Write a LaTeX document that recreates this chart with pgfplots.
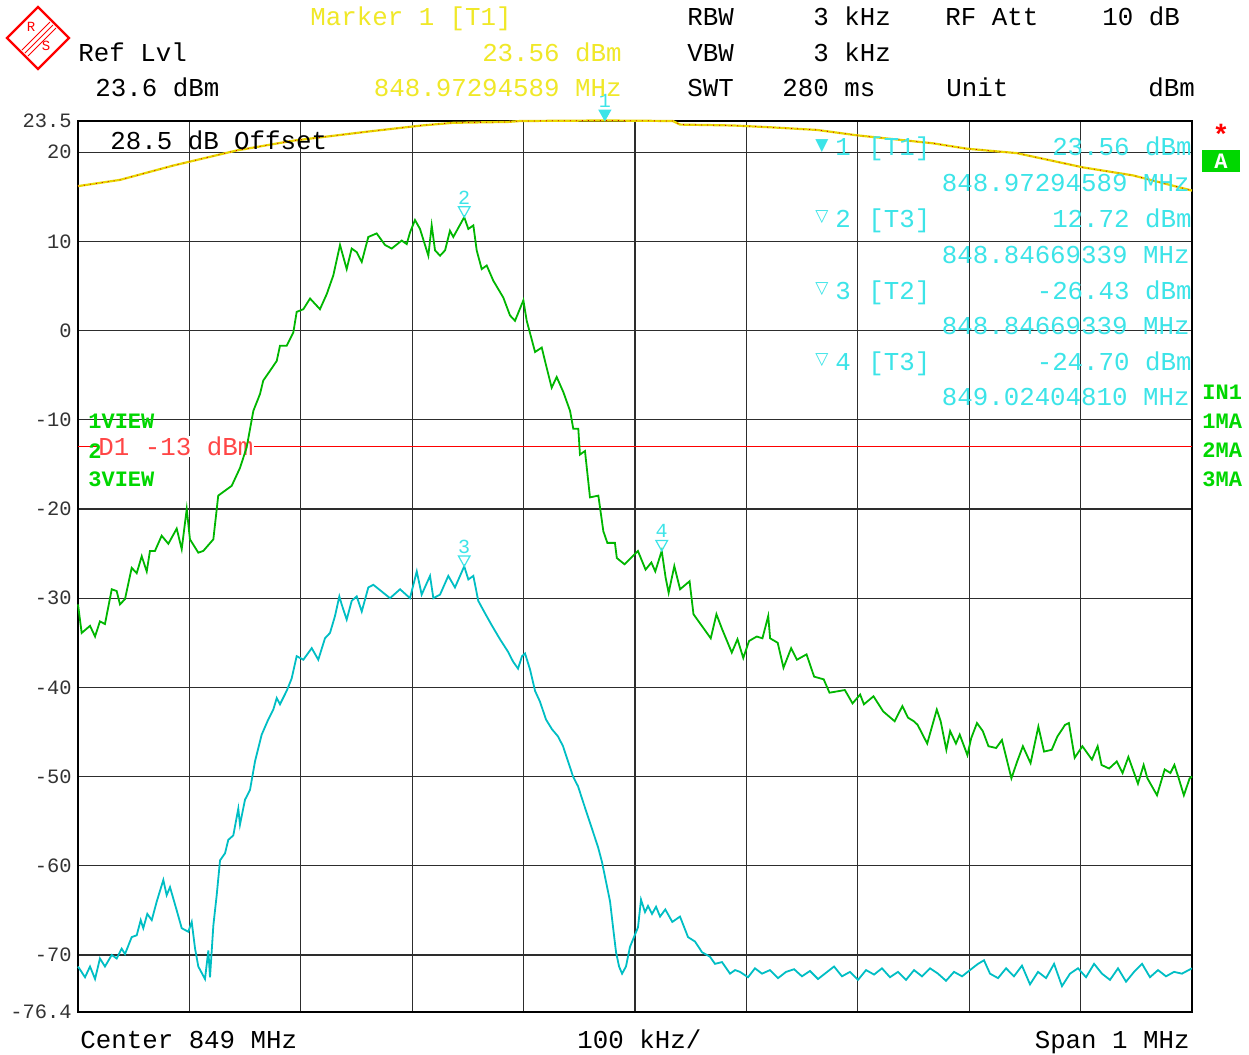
\documentclass[border=0pt]{standalone}
\usepackage{pgfplots}
\pgfplotsset{compat=1.18}
\usepackage{fontspec}
\setmainfont{Liberation Mono}
\newfontfamily\symfont{DejaVu Sans}

\definecolor{trgreen}{RGB}{0,182,0}
\definecolor{trcyan}{RGB}{0,190,196}
\definecolor{mcyan}{RGB}{60,228,232}
\definecolor{hyellow}{RGB}{240,232,40}
\definecolor{tryellow}{RGB}{232,214,0}
\definecolor{lgreen}{RGB}{0,215,0}
\definecolor{dred}{RGB}{255,70,70}
\definecolor{gridc}{RGB}{45,45,45}

\newcommand\hdr{\fontsize{12.9}{15}\selectfont}
\newcommand\tkf{\fontsize{10.2}{12}\selectfont}
\newcommand\mkf{\fontsize{10}{12}\selectfont}
\newcommand\bgf{\fontsize{11}{13}\selectfont\bfseries}

% downward-pointing triangle with its apex on the data point
\pgfdeclareplotmark{dtri}{%
  \pgfpathmoveto{\pgfpointorigin}%
  \pgfpathlineto{\pgfpoint{-2.9pt}{5.2pt}}%
  \pgfpathlineto{\pgfpoint{2.9pt}{5.2pt}}%
  \pgfpathclose\pgfusepathqstroke}
\pgfdeclareplotmark{dtrif}{%
  \pgfpathmoveto{\pgfpointorigin}%
  \pgfpathlineto{\pgfpoint{-2.9pt}{5.2pt}}%
  \pgfpathlineto{\pgfpoint{2.9pt}{5.2pt}}%
  \pgfpathclose\pgfusepathqfillstroke}

\begin{document}
\begin{tikzpicture}
% canvas, 1 unit = one screen pixel
\begin{scope}[x=0.5pt,y=-0.5pt]
  \fill[white] (0,0) rectangle (1249,1055);
\end{scope}

\begin{axis}[
  at={(39pt,-506pt)}, anchor=south west,
  width=557pt, height=445.5pt, scale only axis,
  xmin=-500, xmax=500, ymin=-76.4, ymax=23.5,
  xtick={-400,-300,...,400}, xticklabels={,,,,,,,,},
  ytick={-76.4,-70,-60,-50,-40,-30,-20,-10,0,10,20,23.5},
  yticklabels={-76.4,-70,-60,-50,-40,-30,-20,-10,0,10,20,23.5},
  yticklabel style={font=\tkf, text=black!80, anchor=east, inner sep=0pt, xshift=-3pt},
  grid=major,
  major grid style={gridc, line width=0.6pt},
  major tick length=0pt,
  axis line style={black, line width=1.4pt},
  clip=false,
]

% display line D1
\addplot[red, line width=0.5pt] coordinates {(-500,-13) (500,-13)};
\node[anchor=west, fill=white, inner sep=0.5pt, font=\hdr, text=dred] at (axis cs:-482.9,-13) {D1 -13 dBm};

% trace 1: clear/write (yellow)
\addplot[tryellow, line width=1.1pt] coordinates {
(-500,16.2) (-462.3,16.9) (-414.7,18.5) (-357.5,20.2) (-306.7,21.3)
(-240.8,22.3) (-191.5,23.0) (-163.1,23.3) (-113.7,23.4) (-103.2,23.5)
(-27.05,23.56) (34.1,23.5) (40.4,23.1) (88.0,23.0) (121.2,22.8)
(163.4,22.5) (199.0,21.9) (267.5,21.0) (297.8,20.4) (342.7,19.9)
(402.2,18.3) (447.1,17.4) (500,15.7)};
\addplot[red!80!black, line width=0.4pt, dash pattern=on 0.5pt off 2.5pt] coordinates {
(-500,16.2) (-462.3,16.9) (-414.7,18.5) (-357.5,20.2) (-306.7,21.3)
(-240.8,22.3) (-191.5,23.0) (-163.1,23.3) (-113.7,23.4) (-103.2,23.5)
(-27.05,23.56) (34.1,23.5) (40.4,23.1) (88.0,23.0) (121.2,22.8)
(163.4,22.5) (199.0,21.9) (267.5,21.0) (297.8,20.4) (342.7,19.9)
(402.2,18.3) (447.1,17.4) (500,15.7)};

% trace 3: max hold (green)
\addplot[trgreen, line width=0.9pt] coordinates {
(-500,-30.7) (-496.7,-33.9) (-489.2,-33.1) (-484.7,-34.3) (-480.3,-32.6) (-475.8,-32.9)
(-469.7,-29.0) (-465.3,-29.2) (-462.3,-30.7) (-457.8,-30.1) (-451.8,-26.6) (-447.3,-27.2)
(-442.8,-25.3) (-438.3,-27.0) (-435.4,-24.7) (-430.9,-24.7) (-424.9,-23.0) (-418.9,-23.9)
(-411.4,-22.2) (-406.9,-24.5) (-402.4,-20.0) (-399.5,-23.4) (-392.0,-24.9) (-387.5,-24.7)
(-378.5,-23.4) (-374.1,-18.5) (-362.0,-17.4) (-354.6,-15.4) (-348.6,-13.1) (-342.6,-9.0)
(-336.6,-7.1) (-333.7,-5.6) (-327.6,-4.5) (-321.6,-3.4) (-318.7,-1.7) (-312.7,-1.7)
(-306.7,-0.2) (-303.7,2.1) (-297.7,2.4) (-291.7,3.6) (-282.8,2.4) (-276.7,4.1)
(-270.8,6.2) (-264.8,9.6) (-258.8,6.9) (-254.3,9.2) (-249.8,8.8) (-245.3,7.7)
(-239.4,10.5) (-231.9,10.9) (-224.4,9.6) (-218.4,9.2) (-209.4,10.1) (-204.9,9.7)
(-202.0,11.0) (-197.5,12.4) (-193.0,11.4) (-185.5,8.4) (-182.5,11.8) (-179.5,9.0)
(-175.0,8.4) (-170.5,9.0) (-166.1,11.2) (-163.1,10.5) (-153.3,12.72) (-149.6,11.4)
(-145.1,11.8) (-142.1,9.0) (-137.6,6.9) (-133.1,7.3) (-127.2,5.6) (-118.2,3.7)
(-112.2,1.7) (-107.7,1.1) (-100.2,3.4) (-97.2,1.1) (-89.7,-2.4) (-83.7,-1.9)
(-80.8,-3.4) (-74.8,-6.4) (-70.3,-5.2) (-64.3,-6.9) (-58.3,-9.0) (-55.4,-11.0)
(-50.9,-11.0) (-49.4,-13.9) (-44.9,-13.5) (-40.4,-18.7) (-32.9,-18.5) (-28.4,-22.5)
(-24.8,-23.8) (-18.0,-23.8) (-16.3,-25.5) (-9.4,-26.2) (2.6,-24.7) (9.5,-26.8)
(14.7,-26.0) (18.2,-27.0) (24.0,-24.7) (27.5,-27.7) (30.2,-29.4) (35.3,-26.4)
(40.5,-29.0) (49.0,-28.1) (52.5,-31.8) (59.4,-33.0) (68.0,-34.5) (73.1,-31.8)
(78.3,-33.5) (86.9,-36.1) (92.0,-34.6) (97.2,-36.7) (102.4,-34.8) (109.3,-34.3)
(114.4,-34.5) (119.6,-32.0) (121.3,-34.5) (128.1,-35.0) (133.3,-37.8) (140.2,-35.6)
(145.4,-36.9) (154.0,-36.3) (160.8,-38.8) (169.4,-39.1) (174.6,-40.6) (188.4,-40.3)
(195.3,-41.8) (202.1,-40.8) (205.5,-41.9) (214.1,-41.0) (222.8,-42.7) (233.1,-43.8)
(240.0,-42.1) (245.1,-43.4) (250.3,-43.8) (253.7,-44.2) (262.3,-46.3) (270.9,-42.5)
(274.4,-43.8) (279.5,-47.0) (282.9,-44.9) (288.1,-46.3) (291.5,-45.3) (298.4,-47.6)
(301.8,-45.7) (307.0,-44.0) (312.2,-44.9) (317.3,-46.6) (324.2,-46.8) (329.4,-45.9)
(337.9,-50.2) (343.1,-48.3) (348.2,-46.6) (355.1,-48.5) (362.1,-44.4) (367.2,-47.2)
(374.1,-47.0) (379.2,-45.5) (386.1,-44.2) (389.5,-44.0) (394.7,-47.9) (401.6,-46.6)
(410.2,-48.1) (415.3,-46.6) (418.8,-48.7) (425.6,-49.1) (432.5,-48.3) (437.7,-49.6)
(442.9,-47.8) (451.5,-50.8) (456.6,-48.7) (460.0,-50.2) (468.6,-52.1) (475.5,-49.2)
(480.6,-49.6) (484.2,-48.7) (487.6,-50.0) (492.7,-52.1) (497.9,-50.2) (500,-50.0)};

% trace 2: average (cyan)
\addplot[trcyan, line width=0.9pt] coordinates {
(-500,-71.3) (-493.7,-72.5) (-489.2,-71.3) (-484.7,-72.7) (-480.3,-70.4) (-475.8,-71.3)
(-469.7,-70.0) (-465.3,-70.4) (-460.8,-69.3) (-457.8,-69.9) (-451.8,-68.0) (-447.3,-67.8)
(-443.7,-66.1) (-441.4,-67.0) (-437.8,-65.4) (-433.8,-66.1) (-429.3,-64.0) (-423.4,-61.6)
(-420.4,-63.3) (-417.4,-62.4) (-411.4,-65.0) (-406.9,-67.0) (-401.0,-67.4) (-397.9,-66.3)
(-394.9,-69.3) (-392.0,-71.3) (-386.0,-72.7) (-383.0,-69.5) (-381.5,-72.5) (-378.5,-66.7)
(-375.5,-63.3) (-372.5,-59.4) (-368.0,-58.6) (-365.1,-57.1) (-360.6,-56.6) (-356.1,-53.6)
(-354.6,-55.4) (-350.1,-52.6) (-345.6,-51.5) (-341.1,-48.3) (-335.1,-45.3) (-329.2,-43.6)
(-324.7,-42.5) (-321.6,-41.2) (-318.7,-41.9) (-312.7,-40.4) (-308.2,-39.0) (-303.7,-36.5)
(-297.7,-36.9) (-290.2,-35.6) (-284.3,-36.9) (-278.3,-34.5) (-273.8,-33.9) (-269.3,-32.0)
(-265.4,-29.8) (-263.3,-30.7) (-258.8,-32.4) (-254.3,-30.3) (-249.8,-29.8) (-245.3,-31.5)
(-239.4,-28.8) (-234.9,-28.5) (-219.9,-30.0) (-210.9,-29.0) (-202.0,-30.0) (-195.9,-27.0)
(-191.5,-29.6) (-184.0,-27.5) (-181.0,-30.0) (-175.0,-29.6) (-167.6,-27.5) (-161.6,-28.8)
(-153.3,-26.43) (-149.6,-27.9) (-145.1,-27.5) (-140.7,-30.3) (-134.6,-31.7) (-128.3,-33.1)
(-121.2,-34.6) (-114.0,-36.0) (-109.5,-37.1) (-105.0,-37.9) (-101.4,-36.5) (-98.7,-36.2)
(-94.2,-38.0) (-89.7,-40.4) (-85.3,-41.6) (-79.9,-43.6) (-74.5,-44.7) (-69.1,-45.5)
(-64.6,-46.6) (-60.1,-48.3) (-55.6,-50.0) (-51.1,-51.1) (-46.7,-52.8) (-42.2,-54.5)
(-37.7,-56.2) (-33.2,-57.9) (-29.6,-59.6) (-26.0,-61.8) (-22.4,-64.0) (-19.7,-66.9)
(-17.0,-69.7) (-14.3,-71.3) (-11.6,-72.1) (-8.1,-71.3) (-4.5,-69.1) (-0.9,-68.0)
(2.7,-66.9) (5.4,-63.8) (9.0,-65.2) (11.7,-64.5) (15.3,-65.4) (18.9,-64.6)
(22.5,-65.7) (27.2,-64.9) (33.5,-66.3) (40.4,-65.7) (47.6,-68.0) (53.9,-68.5)
(60.2,-69.7) (67.3,-70.2) (71.8,-71.0) (78.1,-70.8) (85.3,-72.1) (89.8,-71.7)
(94.3,-71.9) (101.5,-72.5) (107.7,-71.5) (114.0,-72.1) (121.2,-71.7) (128.4,-72.6)
(135.6,-71.9) (142.8,-71.6) (149.9,-72.4) (157.1,-71.8) (164.3,-72.7) (171.5,-72.0)
(178.7,-71.3) (185.8,-72.4) (193.0,-71.9) (200.2,-72.8) (207.4,-71.7) (214.6,-72.2)
(221.7,-71.5) (228.9,-72.5) (236.1,-71.9) (243.3,-72.8) (250.5,-71.7) (257.6,-72.4)
(264.8,-71.5) (272.0,-72.1) (279.2,-72.9) (286.4,-71.9) (293.6,-72.4) (300.7,-71.7)
(307.9,-71.0) (313.3,-70.6) (318.7,-72.1) (325.9,-72.6) (333.1,-71.5) (340.2,-72.4)
(347.4,-71.2) (354.6,-73.3) (361.8,-71.9) (369.0,-72.6) (376.2,-71.0) (383.3,-73.5)
(390.5,-72.1) (397.7,-71.5) (404.9,-72.5) (412.1,-71.0) (419.2,-72.1) (426.4,-72.8)
(433.6,-71.5) (440.8,-73.0) (448.0,-71.9) (455.2,-71.0) (462.3,-72.5) (469.5,-71.7)
(476.7,-72.4) (483.9,-71.9) (491.0,-72.1) (500.0,-71.5)};

% markers
\addplot[mcyan, fill=mcyan, only marks, mark=dtrif, mark options={line width=0.5pt}]
  coordinates {(-27.05,23.56)};
\addplot[mcyan, only marks, mark=dtri, mark options={line width=0.6pt}]
  coordinates {(-153.3,12.72) (-153.3,-26.43) (24.0,-24.7)};
\node[anchor=south, inner sep=0pt, font=\mkf, text=mcyan, yshift=6.3pt] at (axis cs:-27.05,23.56) {1};
\node[anchor=south, inner sep=0pt, font=\mkf, text=mcyan, yshift=6.3pt] at (axis cs:-153.3,12.72) {2};
\node[anchor=south, inner sep=0pt, font=\mkf, text=mcyan, yshift=6.3pt] at (axis cs:-153.3,-26.43) {3};
\node[anchor=south, inner sep=0pt, font=\mkf, text=mcyan, yshift=6.3pt] at (axis cs:24.0,-24.7) {4};
\end{axis}

\begin{scope}[x=0.5pt,y=-0.5pt, every node/.style={inner sep=0pt}]
  % logo
  \draw[red, line width=1.2pt] (38,7) -- (69,38) -- (38,69) -- (7,38) -- cycle;
  \draw[red, line width=0.5pt] (22,50) -- (50,22);
  \draw[red, line width=0.5pt] (25,53) -- (53,25);
  \draw[red, line width=0.5pt] (28,56) -- (56,28);
  \node[text=red, font=\fontsize{7}{8}\selectfont] at (31,27) {R};
  \node[text=red, font=\fontsize{7}{8}\selectfont] at (46,46) {S};

  % header
  \node[anchor=base west, font=\hdr, text=hyellow] at (310,25) {Marker 1 [T1]};
  \node[anchor=base west, font=\hdr] at (687,25) {RBW};
  \node[anchor=base west, font=\hdr] at (813,25) {3 kHz};
  \node[anchor=base west, font=\hdr] at (945,25) {RF Att};
  \node[anchor=base west, font=\hdr] at (1102,25) {10 dB};
  \node[anchor=base west, font=\hdr] at (78,61) {Ref Lvl};
  \node[anchor=base east, font=\hdr, text=hyellow] at (622,61) {23.56 dBm};
  \node[anchor=base west, font=\hdr] at (687,61) {VBW};
  \node[anchor=base west, font=\hdr] at (813,61) {3 kHz};
  \node[anchor=base west, font=\hdr] at (95,96) {23.6 dBm};
  \node[anchor=base east, font=\hdr, text=hyellow] at (622,96) {848.97294589 MHz};
  \node[anchor=base west, font=\hdr] at (687,96) {SWT};
  \node[anchor=base west, font=\hdr] at (782,96) {280 ms};
  \node[anchor=base west, font=\hdr] at (946,96) {Unit};
  \node[anchor=base west, font=\hdr] at (1148,96) {dBm};

  \node[anchor=base west, font=\hdr] at (110,149) {28.5 dB Offset};

  % marker table
  \node[anchor=base west, font=\symfont\fontsize{8.5}{10}\selectfont, text=mcyan] at (815,150) {▼};
  \node[anchor=base west, font=\hdr, text=mcyan] at (835,155) {1};
  \node[anchor=base west, font=\hdr, text=mcyan] at (868,155) {[T1]};
  \node[anchor=base east, font=\hdr, text=mcyan] at (1192,155) {23.56 dBm};
  \node[anchor=base east, font=\hdr, text=mcyan] at (1190,191) {848.97294589 MHz};
  \node[anchor=base west, font=\symfont\fontsize{8.5}{10}\selectfont, text=mcyan] at (815,221) {▽};
  \node[anchor=base west, font=\hdr, text=mcyan] at (835,227) {2};
  \node[anchor=base west, font=\hdr, text=mcyan] at (868,227) {[T3]};
  \node[anchor=base east, font=\hdr, text=mcyan] at (1192,227) {12.72 dBm};
  \node[anchor=base east, font=\hdr, text=mcyan] at (1190,263) {848.84669339 MHz};
  \node[anchor=base west, font=\symfont\fontsize{8.5}{10}\selectfont, text=mcyan] at (815,293) {▽};
  \node[anchor=base west, font=\hdr, text=mcyan] at (835,299) {3};
  \node[anchor=base west, font=\hdr, text=mcyan] at (868,299) {[T2]};
  \node[anchor=base east, font=\hdr, text=mcyan] at (1192,299) {-26.43 dBm};
  \node[anchor=base east, font=\hdr, text=mcyan] at (1190,334) {848.84669339 MHz};
  \node[anchor=base west, font=\symfont\fontsize{8.5}{10}\selectfont, text=mcyan] at (815,364) {▽};
  \node[anchor=base west, font=\hdr, text=mcyan] at (835,370) {4};
  \node[anchor=base west, font=\hdr, text=mcyan] at (868,370) {[T3]};
  \node[anchor=base east, font=\hdr, text=mcyan] at (1192,370) {-24.70 dBm};
  \node[anchor=base east, font=\hdr, text=mcyan] at (1190,405) {849.02404810 MHz};

  % trace status labels
  \node[anchor=base west, font=\bgf, text=lgreen] at (88,428) {1VIEW};
  \node[anchor=base west, font=\bgf, text=lgreen] at (88,458) {2};
  \node[anchor=base west, font=\bgf, text=lgreen] at (88,486) {3VIEW};
  \node[anchor=base west, font=\bgf, text=lgreen] at (1202,399) {IN1};
  \node[anchor=base west, font=\bgf, text=lgreen] at (1202,428) {1MA};
  \node[anchor=base west, font=\bgf, text=lgreen] at (1202,457) {2MA};
  \node[anchor=base west, font=\bgf, text=lgreen] at (1202,486) {3MA};

  % side indicators
  \node[text=red, font=\fontsize{14}{14}\selectfont\bfseries] at (1221,134) {*};
  \fill[lgreen] (1202,150) rectangle (1240,172);
  \node[text=white, font=\bgf] at (1221,161) {A};

  % footer
  \node[anchor=base west, font=\hdr] at (80,1048) {Center 849 MHz};
  \node[anchor=base west, font=\hdr] at (577,1048) {100 kHz/};
  \node[anchor=base east, font=\hdr] at (1190,1048) {Span 1 MHz};
\end{scope}
\end{tikzpicture}
\end{document}
